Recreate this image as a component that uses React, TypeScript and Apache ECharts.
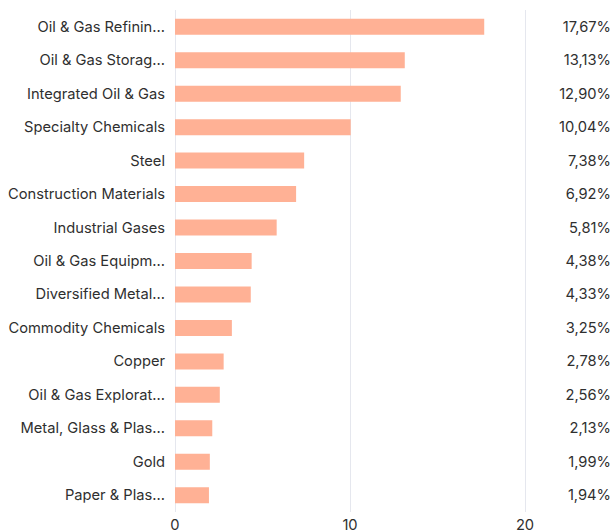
import React, { useEffect, useRef } from "react";
import * as echarts from "echarts";

const categories = [
  "Oil & Gas Refinin...",
  "Oil & Gas Storag...",
  "Integrated Oil & Gas",
  "Specialty Chemicals",
  "Steel",
  "Construction Materials",
  "Industrial Gases",
  "Oil & Gas Equipm...",
  "Diversified Metal...",
  "Commodity Chemicals",
  "Copper",
  "Oil & Gas Explorat...",
  "Metal, Glass & Plas...",
  "Gold",
  "Paper & Plas...",
];

const values = [17.67, 13.13, 12.9, 10.04, 7.38, 6.92, 5.81, 4.38, 4.33, 3.25, 2.78, 2.56, 2.13, 1.99, 1.94];

const valueLabels = values.map((v) => v.toFixed(2).replace(".", ",") + "%");

const xTicks = { min: 0, max: 20, interval: 10 };

export default function App() {
  const ref = useRef<HTMLDivElement>(null);
  useEffect(() => {
    document.body.style.margin = "0";
    const chart = echarts.init(ref.current!, null, { renderer: "svg" });
    const font = "Inter, 'Noto Sans', sans-serif";
    chart.setOption({
      animation: false,
      grid: { left: 175, right: 88, top: 10, bottom: 19, containLabel: false },
      xAxis: {
        type: "value",
        min: xTicks.min,
        max: xTicks.max,
        interval: xTicks.interval,
        axisLine: { show: false },
        axisTick: { show: false },
        splitLine: { show: true, lineStyle: { color: "#E5E7EE", width: 1 } },
        axisLabel: { color: "#2F2F2F", fontSize: 14.7, fontFamily: font, margin: 5 },
      },
      yAxis: [
        {
          type: "category",
          data: categories,
          inverse: true,
          axisLine: { show: false },
          axisTick: { show: false },
          axisLabel: { color: "#2F2F2F", fontSize: 14.7, fontFamily: font, margin: 10 },
        },
        {
          type: "category",
          data: valueLabels,
          inverse: true,
          position: "right",
          axisLine: { show: false },
          axisTick: { show: false },
          axisLabel: { color: "#2F2F2F", fontSize: 14.7, fontFamily: font, align: "right", margin: 86 },
        },
      ],
      series: [
        {
          type: "bar",
          data: values,
          yAxisIndex: 0,
          barWidth: 16,
          itemStyle: { color: "#FFB195" },
        },
      ],
    });
    return () => chart.dispose();
  }, []);
  return <div ref={ref} style={{ width: 614, height: 532 }} />;
}
